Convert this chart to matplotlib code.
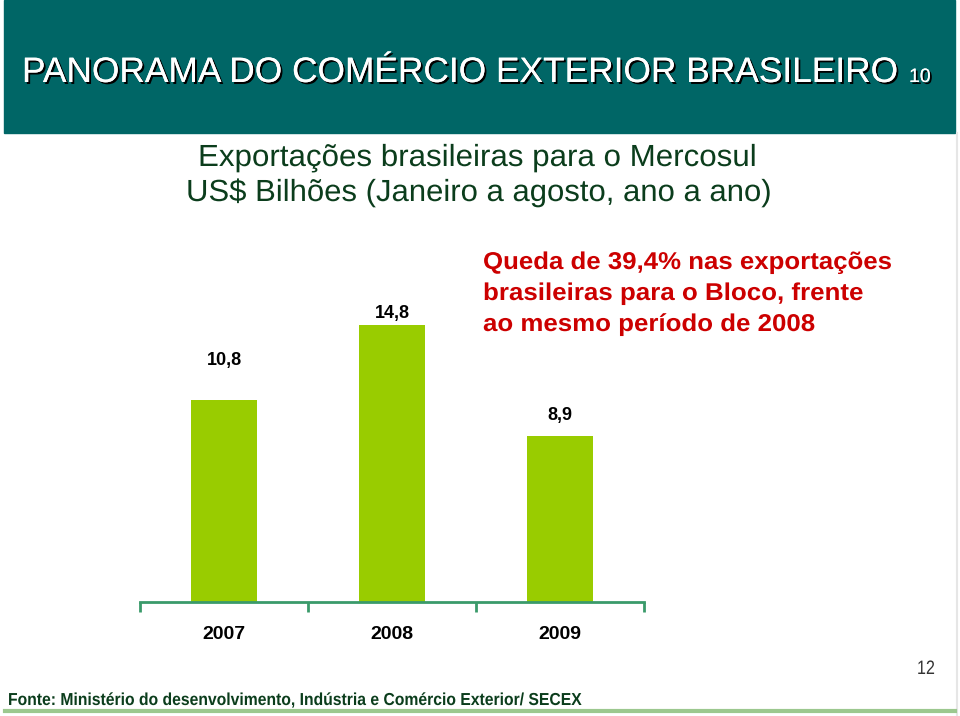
import matplotlib
matplotlib.use("Agg")
import matplotlib.pyplot as plt
import matplotlib.patheffects as pe
from matplotlib.patches import Rectangle
from matplotlib.lines import Line2D
from matplotlib.transforms import Affine2D

years = ["2007", "2008", "2009"]
values = [10.8, 14.8, 8.9]
value_labels = ["10,8", "14,8", "8,9"]

title = "PANORAMA DO COMÉRCIO EXTERIOR BRASILEIRO"
title_num = "10"
subtitle1 = "Exportações brasileiras para o Mercosul"
subtitle2 = "US$ Bilhões (Janeiro a agosto, ano a ano)"
note_lines = ["Queda de 39,4% nas exportações",
              "brasileiras para o Bloco, frente",
              "ao mesmo período de 2008"]
source = "Fonte: Ministério do desenvolvimento, Indústria e Comércio Exterior/ SECEX"
page = "12"

W, H = 960, 716
fig = plt.figure(figsize=(W / 100, H / 100), dpi=100)
fig.patch.set_facecolor("white")


def fx(x):
    return x / W


def fy(y):
    return 1 - y / H


sans = ["Liberation Sans", "DejaVu Sans"]


class Squeeze(pe.AbstractPathEffect):
    """Draw text horizontally scaled about its anchor."""

    def __init__(self, sx=1.0):
        super().__init__()
        self.sx = sx

    def draw_path(self, renderer, gc, tpath, affine, rgbFace=None):
        m = affine.get_matrix().copy()
        m[0, 0] *= self.sx
        m[0, 1] *= self.sx
        renderer.draw_path(gc, tpath, Affine2D(m), rgbFace)


def fitted_text(x_left, y_base, s, target_w, **kw):
    t = fig.text(fx(x_left), fy(y_base), s, ha="left", va="baseline", **kw)
    fig.canvas.draw()
    w = t.get_window_extent().width
    t.set_path_effects([Squeeze(target_w / w)])
    return t


def sized_text(x_left, y_base, s, target_w, base_size, **kw):
    t = fig.text(fx(x_left), fy(y_base), s, ha="left", va="baseline",
                 fontsize=base_size, **kw)
    fig.canvas.draw()
    w = t.get_window_extent().width
    t.set_fontsize(base_size * target_w / w)
    return t


# header band
fig.patches.append(Rectangle((fx(4), fy(133)), fx(951), 133 / H,
                             transform=fig.transFigure, color="#006666", zorder=0))
fig.lines.append(Line2D([fx(957), fx(957)], [fy(133), fy(716)], transform=fig.transFigure,
                        color="#e6e6e6", lw=1.5))
fig.lines.append(Line2D([fx(5), fx(955)], [fy(711), fy(711)], transform=fig.transFigure,
                        color="#9cc88f", lw=3))

shadow = [pe.withSimplePatchShadow(offset=(1.4, -1.4), shadow_rgbFace="black", alpha=1.0),
          pe.Normal()]
sized_text(22, 82, title, 876, 27, family=sans, color="white", path_effects=shadow)
fig.text(fx(909), fy(82), title_num, ha="left", va="baseline", family=sans,
         fontsize=14, color="white", path_effects=shadow)

fitted_text(198, 166, subtitle1, 557, family=sans, fontsize=22, color="#0b3d1c")
fitted_text(186, 201, subtitle2, 584, family=sans, fontsize=22, color="#0b3d1c")

note_w = [409, 381, 332]
for i, (line, tw) in enumerate(zip(note_lines, note_w)):
    fitted_text(483, 269 + 31 * i, line, tw, family=sans, fontsize=17.5,
                fontweight="bold", color="#cc0000")

fitted_text(8, 705, source, 574, family=sans, fontsize=12.5, fontweight="bold",
            color="#0b3d1c")
fitted_text(917, 674, page, 18, family=sans, fontsize=14, color="#333333")

# axes
ax_top = 232
ax = fig.add_axes([fx(140), fy(602), fx(644) - fx(140), (602 - ax_top) / H])
ax.set_facecolor("none")
px_per_unit = 18.7
ax.set_ylim(0, (602 - ax_top) / px_per_unit)
ax.set_xlim(-0.5, len(years) - 0.5)
x = list(range(len(years)))
ax.bar(x, values, width=0.39, color="#99cc00", zorder=2)

label_offsets = [22, 2.5, 8]  # points above each bar
for xi, v, lab, off in zip(x, values, value_labels, label_offsets):
    ax.annotate(lab, (xi, v), xytext=(0, off), textcoords="offset points",
                ha="center", va="bottom", fontsize=13, fontweight="bold",
                family=sans, color="black")

for s in ["top", "right", "left"]:
    ax.spines[s].set_visible(False)
ax.spines["bottom"].set_color("#3a9a6a")
ax.spines["bottom"].set_linewidth(2)
ax.set_yticks([])
ax.set_xticks([-0.5, 0.5, 1.5, 2.5], minor=False)
ax.set_xticklabels([])
ax.set_xticks(x, minor=True)
ax.set_xticklabels(years, minor=True, fontsize=14, fontweight="bold", family=sans)
ax.tick_params(axis="x", which="major", direction="out", length=7, width=2, color="#3a9a6a")
ax.tick_params(axis="x", which="minor", length=0, pad=17)

fig.savefig("out.png", dpi=100, facecolor="white")
